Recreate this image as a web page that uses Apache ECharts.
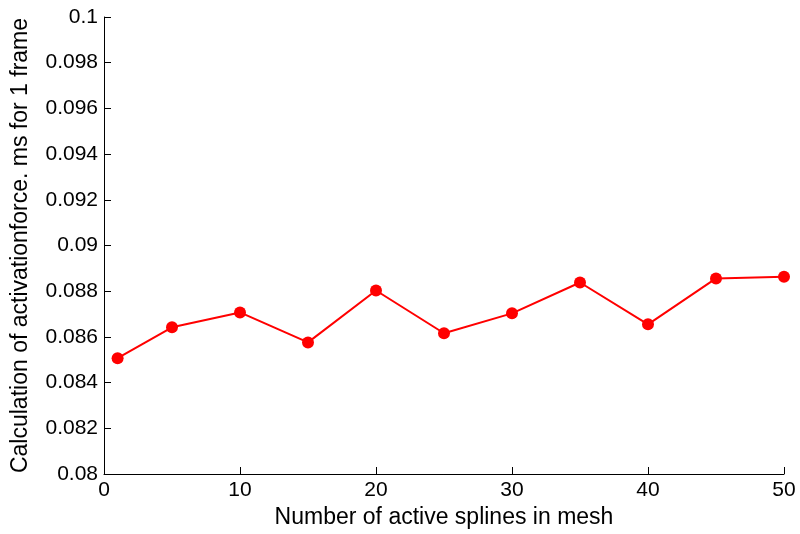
<!DOCTYPE html>
<html><head><meta charset="utf-8">
<script src="https://cdn.jsdelivr.net/npm/echarts@6/dist/echarts.min.js"></script>
<style>html,body{margin:0;padding:0;background:#fff}#c{width:800px;height:534px}</style>
</head><body><div id="c"></div>
<script>
const xValues = [1, 5, 10, 15, 20, 25, 30, 35, 40, 45, 50];
const yValues = [0.08507, 0.08642, 0.08707, 0.08576, 0.08803, 0.08616, 0.08703, 0.08838, 0.08655, 0.08856, 0.08863];
const xTitle = 'Number of active splines in mesh';
const yTitle = 'Calculation of activationforce. ms for 1 frame';

const font = 'Liberation Sans, Arial, Helvetica, sans-serif';
const chart = echarts.init(document.getElementById('c'));
chart.setOption({
  animation: false,
  backgroundColor: '#fff',
  grid: { left: 104, right: 16, top: 17, bottom: 60, containLabel: false },
  xAxis: {
    type: 'value', min: 0, max: 50, interval: 10,
    name: xTitle, nameLocation: 'middle', nameGap: 32,
    nameTextStyle: { fontFamily: font, fontSize: 23, color: '#000' },
    axisLine: { show: true, onZero: false, lineStyle: { color: '#000', width: 1 } },
    axisTick: { show: true, inside: true, length: 7, lineStyle: { color: '#000' } },
    axisLabel: { fontFamily: font, fontSize: 21, color: '#000', margin: 6 },
    splitLine: { show: false }
  },
  yAxis: {
    type: 'value', min: 0.08, max: 0.1, interval: 0.002,
    name: yTitle, nameLocation: 'middle', nameGap: 72,
    nameTextStyle: { fontFamily: font, fontSize: 23, color: '#000' },
    axisLine: { show: true, lineStyle: { color: '#000', width: 1 } },
    axisTick: { show: true, inside: true, length: 7, lineStyle: { color: '#000' } },
    axisLabel: { fontFamily: font, fontSize: 21, color: '#000', margin: 6,
      formatter: v => String(parseFloat(v.toFixed(3))) },
    splitLine: { show: false }
  },
  series: [{
    type: 'line',
    data: xValues.map((x, i) => [x, yValues[i]]),
    symbol: 'circle', symbolSize: 12,
    lineStyle: { color: '#ff0000', width: 2 },
    itemStyle: { color: '#ff0000' }
  }]
});
</script></body></html>
